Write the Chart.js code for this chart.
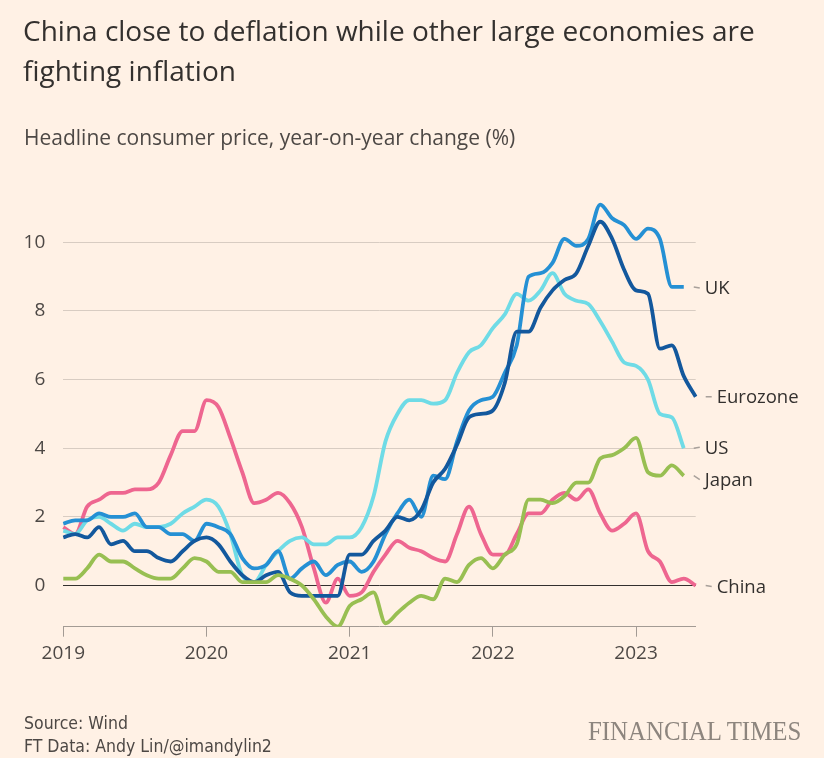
<!DOCTYPE html>
<html>
<head>
<meta charset="utf-8">
<script src="https://cdn.jsdelivr.net/npm/chart.js@4.4.0/dist/chart.umd.min.js"></script>
<style>
  html, body { margin: 0; padding: 0; background: #fff1e5; }
  body { width: 824px; height: 758px; position: relative; overflow: hidden; }
  #myChart { position: absolute; left: 0; top: 0; }
  .txt { position: absolute; white-space: nowrap; color: #33302e; }
  #title { left: 23px; top: 9.5px; font: 28px/40.5px "Open Sans", sans-serif; }
  #subtitle { left: 24px; top: 123px; font: 21px "Open Sans", sans-serif; color: #4d4845; }
  #source { left: 24px; top: 712px; font: 17.5px/23px "Liberation Sans Narrow", "DejaVu Sans Condensed", sans-serif; color: #4d4845; }
  #logo { left: 588px; top: 716px; font: 27px "Liberation Serif", serif; color: #8d857e; transform: scaleX(0.92); transform-origin: left top; }
</style>
</head>
<body>
<canvas id="myChart" width="824" height="758"></canvas>
<div class="txt" id="title">China close to deflation while other large economies are<br>fighting inflation</div>
<div class="txt" id="subtitle">Headline consumer price, year-on-year change (%)</div>
<div class="txt" id="source">Source: Wind<br>FT Data: Andy Lin/@imandylin2</div>
<div class="txt" id="logo">FINANCIAL TIMES</div>
<script>
// monthly, Jan 2019 .. Jun 2023
const months = [];
for (let y = 2019; y <= 2023; y++) {
  for (let m = 1; m <= 12; m++) {
    if (y === 2023 && m > 6) break;
    months.push(y + "-" + String(m).padStart(2, "0"));
  }
}

const china = [
  1.7, 1.5, 2.3, 2.5, 2.7, 2.7, 2.8, 2.8, 3.0, 3.8, 4.5, 4.5,
  5.4, 5.2, 4.3, 3.3, 2.4, 2.5, 2.7, 2.4, 1.7, 0.5, -0.5, 0.2,
  -0.3, -0.2, 0.4, 0.9, 1.3, 1.1, 1.0, 0.8, 0.7, 1.5, 2.3, 1.5,
  0.9, 0.9, 1.5, 2.1, 2.1, 2.5, 2.7, 2.5, 2.8, 2.1, 1.6, 1.8,
  2.1, 1.0, 0.7, 0.1, 0.2, 0.0,
];
const us = [
  1.6, 1.5, 1.9, 2.0, 1.8, 1.6, 1.8, 1.7, 1.7, 1.8, 2.1, 2.3,
  2.5, 2.3, 1.5, 0.3, 0.1, 0.6, 1.0, 1.3, 1.4, 1.2, 1.2, 1.4,
  1.4, 1.7, 2.6, 4.2, 5.0, 5.4, 5.4, 5.3, 5.4, 6.2, 6.8, 7.0,
  7.5, 7.9, 8.5, 8.3, 8.6, 9.1, 8.5, 8.3, 8.2, 7.7, 7.1, 6.5,
  6.4, 6.0, 5.0, 4.9, 4.0, null,
];
const uk = [
  1.8, 1.9, 1.9, 2.1, 2.0, 2.0, 2.1, 1.7, 1.7, 1.5, 1.5, 1.3,
  1.8, 1.7, 1.5, 0.8, 0.5, 0.6, 1.0, 0.2, 0.5, 0.7, 0.3, 0.6,
  0.7, 0.4, 0.7, 1.5, 2.1, 2.5, 2.0, 3.2, 3.1, 4.2, 5.1, 5.4,
  5.5, 6.2, 7.0, 9.0, 9.1, 9.4, 10.1, 9.9, 10.1, 11.1, 10.7, 10.5,
  10.1, 10.4, 10.1, 8.7, 8.7, null,
];
const eurozone = [
  1.4, 1.5, 1.4, 1.7, 1.2, 1.3, 1.0, 1.0, 0.8, 0.7, 1.0, 1.3,
  1.4, 1.2, 0.7, 0.3, 0.1, 0.3, 0.4, -0.2, -0.3, -0.3, -0.3, -0.3,
  0.9, 0.9, 1.3, 1.6, 2.0, 1.9, 2.2, 3.0, 3.4, 4.1, 4.9, 5.0,
  5.1, 5.9, 7.4, 7.4, 8.1, 8.6, 8.9, 9.1, 9.9, 10.6, 10.1, 9.2,
  8.6, 8.5, 6.9, 7.0, 6.1, 5.5,
];
const japan = [
  0.2, 0.2, 0.5, 0.9, 0.7, 0.7, 0.5, 0.3, 0.2, 0.2, 0.5, 0.8,
  0.7, 0.4, 0.4, 0.1, 0.1, 0.1, 0.3, 0.2, 0.0, -0.4, -0.9, -1.2,
  -0.6, -0.4, -0.2, -1.1, -0.8, -0.5, -0.3, -0.4, 0.2, 0.1, 0.6, 0.8,
  0.5, 0.9, 1.2, 2.5, 2.5, 2.4, 2.6, 3.0, 3.0, 3.7, 3.8, 4.0,
  4.3, 3.3, 3.2, 3.5, 3.2, null,
];

const yTicks = [0, 2, 4, 6, 8, 10];

const ctx = document.getElementById("myChart").getContext("2d");

// label nudges (px) so Japan sits a little below its line end
const labelShift = { UK: 1, Eurozone: 0, US: -1, Japan: 4, China: 1 };

const endLabels = {
  id: "endLabels",
  afterDatasetsDraw(chart) {
    const c = chart.ctx;
    c.save();
    chart.data.datasets.forEach((ds, i) => {
      const meta = chart.getDatasetMeta(i);
      let last = ds.data.length - 1;
      while (last >= 0 && ds.data[last] === null) last--;
      const pt = meta.data[last];
      const ly = pt.y + (labelShift[ds.label] || 0);
      c.strokeStyle = "#a8a09a";
      c.lineWidth = 1.5;
      c.beginPath();
      c.moveTo(pt.x + 10, pt.y);
      c.lineTo(pt.x + 16, ly);
      c.stroke();
      c.fillStyle = "#33302e";
      c.font = "500 18.5px 'Open Sans', sans-serif";
      c.textBaseline = "middle";
      c.textAlign = "left";
      c.fillText(ds.label, pt.x + 21, ly + 1);
    });
    c.restore();
  },
};

const mk = (label, data, color, order) => ({
  label: label,
  data: data,
  borderColor: color,
  backgroundColor: color,
  borderWidth: 3.8,
  pointRadius: 0,
  cubicInterpolationMode: "monotone",
  borderJoinStyle: "round",
  order: order,
});

const myChart = new Chart(ctx, {
  type: "line",
  data: {
    labels: months,
    datasets: [
      mk("UK", uk, "#2590d4", 3),
      mk("Eurozone", eurozone, "#13589d", 2),
      mk("US", us, "#6fdbe6", 4),
      mk("Japan", japan, "#98bf52", 1),
      mk("China", china, "#ee6690", 5),
    ],
  },
  options: {
    responsive: false,
    animation: false,
    devicePixelRatio: 1,
    layout: {
      padding: { left: 0, right: 128.3, top: 190.85, bottom: 91.3 },
    },
    plugins: {
      legend: { display: false },
      tooltip: { enabled: false },
    },
    scales: {
      x: {
        type: "category",
        offset: false,
        afterFit: (s) => { s.height = 40; },
        border: { display: true, color: "#a39b94", width: 1 },
        grid: {
          drawOnChartArea: false,
          drawTicks: true,
          tickLength: 10,
          color: (c) => (c.index % 12 === 0 ? "#a39b94" : "rgba(0,0,0,0)"),
        },
        ticks: {
          autoSkip: false,
          maxRotation: 0,
          padding: 5,
          color: "#4d4845",
          font: { family: "'Open Sans', sans-serif", size: 19 },
          callback: (v, i) => (i % 12 === 0 ? months[i].slice(0, 4) : ""),
        },
      },
      y: {
        min: -1.2,
        max: 11.5,
        afterFit: (s) => { s.width = 63.3; },
        afterBuildTicks: (s) => {
          s.ticks = yTicks.map((v) => ({ value: v }));
        },
        border: { display: false },
        grid: {
          drawTicks: false,
          color: (c) => (c.tick && c.tick.value === 0 ? "#33302e" : "#d8ccc2"),
          lineWidth: 1,
        },
        ticks: {
          padding: 18,
          color: "#4d4845",
          font: { family: "'Open Sans', sans-serif", size: 19 },
        },
      },
    },
  },
  plugins: [endLabels],
});
</script>
</body>
</html>
